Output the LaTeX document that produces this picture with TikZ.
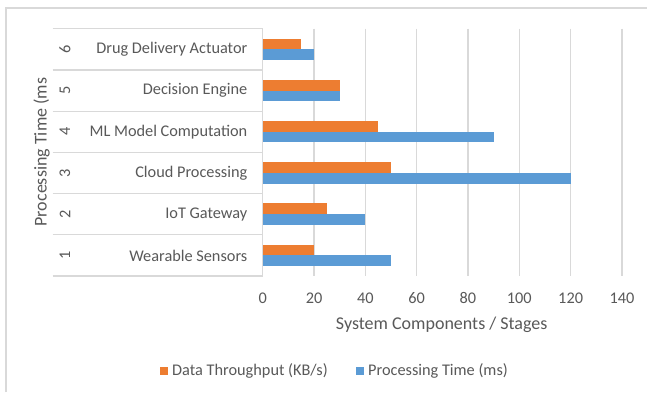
\documentclass[tikz,border=0pt]{standalone}
\usepackage{fontspec}
\setmainfont{Carlito}
\definecolor{cOrange}{HTML}{ED7D31}
\definecolor{cBlue}{HTML}{5B9BD5}
\definecolor{cGrid}{HTML}{D9D9D9}
\definecolor{cText}{HTML}{595959}
\definecolor{cFrame}{HTML}{D9D9D9}
\tikzset{
  lbl/.style={text=cText, font=\fontsize{16.3}{19}\selectfont, inner sep=0pt},
  ttl/.style={text=cText, font=\fontsize{18}{21}\selectfont, inner sep=0pt},
  gridline/.style={draw=cGrid, line width=1.2pt},
  obar/.style={fill=cOrange, draw=none},
  bbar/.style={fill=cBlue, draw=none},
}
\begin{document}
\begin{tikzpicture}[x=1pt,y=-1pt]
\useasboundingbox (0,0) rectangle (647,392);
\fill[white] (0,0) rectangle (647,392);
% outer frame (partial)
\draw[cFrame, line width=1.4pt] (6,392) -- (6,8) -- (647,8);
% vertical gridlines
\foreach \v in {20,40,...,140}{
  \draw[gridline] ({262.7+\v*2.566},28.7) -- ({262.7+\v*2.566},276);
}
% category table lines
\foreach \k in {0,...,6}{
  \draw[gridline] (52.7,{28.7+\k*41.22}) -- (262.7,{28.7+\k*41.22});
}
\draw[gridline] (262.7,28.7) -- (262.7,276);
% bars: row index from top r=0..5 : orange value, blue value
\foreach \r/\o/\b in {0/15/20,1/30/30,2/45/90,3/50/120,4/25/40,5/20/50}{
  \pgfmathsetmacro{\c}{28.7+\r*41.22+20.6}
  \fill[obar] (262.7,{\c-10.7}) rectangle ({262.7+\o*2.566},\c);
  \fill[bbar] (262.7,\c) rectangle ({262.7+\b*2.566},{\c+10.7});
}
% category labels
\foreach \r/\n/\t in {0/6/Drug Delivery Actuator,1/5/Decision Engine,2/4/ML Model Computation,3/3/Cloud Processing,4/2/IoT Gateway,5/1/Wearable Sensors}{
  \node[lbl, anchor=east] (cat\n) at (247.5,{28.7+\r*41.22+20.6}) {\t};
  \node[lbl, rotate=90] (num\n) at (65,{28.7+\r*41.22+20.6}) {\n};
}
% tick labels
\foreach \v in {0,20,...,140}{
  \node[lbl] (tick\v) at ({262.7+\v*2.566},298) {\v};
}
% axis titles
\node[ttl] (xtitle) at (441.7,325) {System Components / Stages};
\node[ttl, rotate=90] (ytitle) at (41.5,152) {Processing Time (ms};
% legend
\fill[cOrange] (160,367) rectangle (168,375);
\node[lbl, anchor=west] (legO) at (172,371) {Data Throughput (KB/s)};
\fill[cBlue] (356,367) rectangle (364,375);
\node[lbl, anchor=west] (legB) at (368,371) {Processing Time (ms)};
\end{tikzpicture}
\end{document}
